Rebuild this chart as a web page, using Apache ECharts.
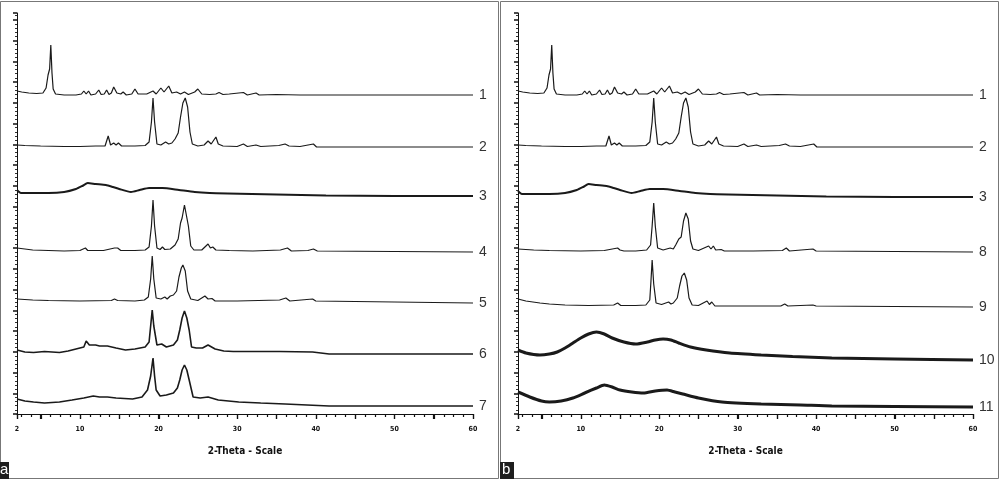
<!DOCTYPE html>
<html>
<head>
<meta charset="utf-8">
<script src="https://cdn.jsdelivr.net/npm/echarts@6/dist/echarts.min.js"></script>
<style>
  html, body { margin: 0; padding: 0; background: #fff; }
  #chart { width: 1000px; height: 488px; }
</style>
</head>
<body>
<div id="chart"></div>
<script>
// 2-theta (deg) vs height above the trace's own baseline (px-like units)
var trace1 = [[2,4],[2.6,3],[3.5,2],[4.5,1.5],[5.3,2],[5.7,7],[5.95,20],[6.15,26],[6.3,50],[6.45,22],[6.6,6],[6.9,1],[8,0],[9.5,0],[10.2,1],[10.5,4],[10.8,1],[11.1,4],[11.4,0],[12,1],[12.4,5],[12.7,0.5],[13.1,1],[13.4,5],[13.7,0.5],[14,2],[14.3,8],[14.7,2],[15.2,1],[15.5,3],[15.9,0],[16.6,1],[17,6],[17.4,1],[18.5,1],[19.3,4],[19.7,1],[20.3,7],[20.7,3],[21.3,9],[21.7,2],[22.3,3],[22.8,1],[23.3,3],[23.8,0.5],[24.6,3],[25,6],[25.5,1],[26.5,0.5],[27.3,1],[27.7,2.5],[28.2,0.5],[29,1],[30.8,2.5],[31.3,0],[32.4,2],[32.8,0],[35,0.5],[38,0],[45,0],[52,0],[60,0]];
var trace2 = [[2,2],[3,1.5],[5,1],[8,0.5],[10,0.5],[12,1],[13.2,1],[13.6,11],[13.9,2],[14.3,4],[14.6,2],[14.9,4],[15.3,1],[17,1],[18.3,1.5],[18.8,5],[19.1,25],[19.3,49],[19.5,25],[19.8,3],[20.3,2],[20.9,5],[21.3,3],[21.7,4],[22.1,8],[22.5,14],[22.8,30],[23.1,44],[23.4,49],[23.7,40],[24,15],[24.3,3],[25,1],[25.8,2],[26.3,6],[26.7,3],[27.3,10],[27.6,3],[28.2,1],[30,0.5],[30.8,3],[31.3,0.5],[32.4,2],[33,0.5],[35.3,1.5],[36.1,3],[36.6,1],[38,0.5],[39.7,3],[40.1,0],[45,0],[50,0],[55,0],[60,0]];
var trace3 = [[2,6],[2.5,3],[4,3],[6,3],[8,4],[9.5,7],[10.3,10],[11,13],[12,12],[13.3,11],[14.2,9],[15,7],[16.5,4],[17.6,6],[18.8,8],[20.5,8],[22.6,6],[24.6,4],[26.5,3],[28.8,2.5],[35,1.5],[41.3,0.5],[50,0],[60,0]];
var trace4 = [[2,3],[4,1],[6,0.5],[8,0],[10,0.5],[10.7,3],[11,0.5],[13,0.5],[14.4,3],[14.8,3],[15.2,0.5],[17,0.5],[18.3,1],[18.8,4],[19.1,25],[19.3,51],[19.5,25],[19.8,3],[20.2,1.5],[20.5,4],[20.8,1.5],[21.5,2],[22.1,6],[22.5,12],[22.8,28],[23.0,33],[23.3,46],[23.5,44],[23.8,25],[24.1,5],[24.5,1],[25.5,1],[26.3,7],[26.6,3],[26.9,4],[27.3,1],[29,0.5],[32,0],[35.5,1],[36.4,3],[36.9,0],[39,0.5],[39.7,2],[40.2,0],[50,-0.5],[60,-1]];
var trace5 = [[2,2],[4,1],[6,0.5],[10,0],[14,0.5],[14.4,2],[14.8,0.5],[17,0],[18.2,1],[18.7,4],[19.0,22],[19.2,45],[19.4,22],[19.7,3],[20.3,2],[20.8,4],[21.1,2],[21.5,5],[21.9,6],[22.3,10],[22.6,24],[22.9,33],[23.1,36],[23.4,30],[23.7,10],[24.1,2],[25,0.5],[25.9,5],[26.3,2],[26.8,2.5],[27.2,0],[30,0],[35.4,1],[36.2,3],[36.7,0],[39.6,2],[40,0],[50,-1],[60,-2]];
var trace6 = [[2,4],[3,2],[4.1,1.5],[5.5,2.5],[7.4,1.5],[8.5,3],[9.5,5],[10.5,7],[10.8,13],[11.2,9],[12,9],[12.5,8],[13.5,8],[14.6,6],[15.8,4],[17,5],[18.3,7],[18.8,12],[19.0,28],[19.2,44],[19.4,28],[19.8,9],[20.4,10],[21,7],[21.9,9],[22.4,14],[22.7,24],[23.0,36],[23.3,43],[23.6,36],[23.9,24],[24.2,7],[24.8,6],[25.6,6],[26.3,9],[27.2,5],[28.3,3],[29.5,2.5],[35.4,2.5],[39.6,2],[41.7,0],[50,0],[60,0]];
var trace7 = [[2,7],[3,5],[4.1,4],[5.5,3],[7.4,4],[9,6],[10.5,8],[11.7,10],[12.5,9],[13.5,9],[14.6,8],[16.7,7],[17.9,9],[18.6,16],[19.0,30],[19.3,48],[19.5,30],[19.7,16],[20.2,10],[21,11],[21.9,13],[22.4,18],[22.7,26],[23.0,36],[23.3,41],[23.6,36],[23.9,26],[24.4,9],[25.3,8],[26.3,9],[27.6,6],[30.2,4],[33,3],[36.1,2],[41.7,0],[50,0],[60,0]];
var trace8 = [[2,2],[4,1],[6,0.5],[10,0],[13,0.5],[14.7,3],[15,1],[15.2,3],[15.5,0],[17,0],[18.4,1],[18.9,6],[19.1,25],[19.3,48],[19.5,25],[19.8,3],[20.5,1],[21.4,3],[21.8,2],[22.1,6],[22.5,12],[22.8,14],[23.1,30],[23.4,38],[23.7,32],[24,10],[24.3,2],[25,0.5],[26.3,5],[26.6,2],[26.9,5],[27.2,1],[27.9,1.5],[28.3,0],[32,0],[35.7,0.5],[36.2,3],[36.6,0],[39.6,2],[40,0],[50,-0.5],[60,-1]];
var trace9 = [[2,7],[3,5],[4.8,3],[6,2],[8,1],[11,0.5],[14.2,1],[14.7,3],[15.1,0.5],[17,0.5],[18.3,1],[18.8,6],[18.95,25],[19.1,46],[19.3,22],[19.6,3],[20.3,1.5],[21.2,4],[21.5,2],[21.8,3],[22.3,8],[22.6,20],[22.9,30],[23.2,33],[23.5,26],[23.8,8],[24.2,1],[25,0.5],[26.1,5],[26.4,1.5],[26.7,4],[27.1,0],[30,0],[35.5,0],[36,2],[36.4,0],[39.6,1],[40,0],[50,-0.5],[60,-1]];
var trace10 = [[2,10],[3,7],[4.8,5],[6,6],[7,8],[8,12],[9,17],[10,22],[11,26],[12,28],[13,26],[14,22],[15.5,18],[17,16],[18.5,18],[19.5,20],[20.5,21],[21.5,20],[22.5,17],[24,13],[26,10],[29,7],[33,5],[37,3.5],[42,2],[50,1],[60,0]];
var trace11 = [[2,15],[3.5,10],[5,6],[6,5],[7.5,6],[9,9],[10.5,14],[12,19],[13,22],[14,20],[15,17],[16.5,15],[18,14],[19.5,16],[21,17],[22,15],[23,13],[25,9],[28,5],[33,3],[38,2],[42,1],[50,0.5],[60,0]];

var namesA = ['1', '2', '3', '4', '5', '6', '7'];
var namesB = ['1', '2', '3', '8', '9', '10', '11'];
var tracesA = [trace1, trace2, trace3, trace4, trace5, trace6, trace7];
var tracesB = [trace1, trace2, trace3, trace8, trace9, trace10, trace11];
var offsetsA = [319, 267, 218, 163, 113, 60, 8];
var offsetsB = [319, 267, 217, 163, 108, 54, 7];
var widthsA = [1.2, 1.2, 2, 1.2, 1.2, 1.6, 1.6];
var widthsB = [1.2, 1.2, 2, 1.2, 1.2, 3, 3];
var smoothA = [false, false, 0.2, false, false, false, false];
var smoothB = [false, false, 0.2, false, false, 0.2, 0.2];

var xLabels = [2, 10, 20, 30, 40, 50, 60];
var xMajor = [2, 5, 10, 15, 20, 25, 30, 35, 40, 45, 50, 55, 60];
var xMinor = [];
for (var v = 2.5; v < 60; v += 1.25) {
  if (v % 5 !== 0) xMinor.push(v);
}

var narrow = '"Liberation Sans Narrow", "DejaVu Sans Condensed", "Liberation Sans", sans-serif';
var chart = echarts.init(document.getElementById('chart'));

function xAxis(grid) {
  return {
    gridIndex: grid, type: 'value', min: 2, max: 60,
    name: '2-Theta - Scale', nameLocation: 'middle', nameGap: 32,
    nameTextStyle: { fontFamily: narrow, fontWeight: 'bold', fontSize: 10, color: '#111' },
    axisLine: { show: true, onZero: false, lineStyle: { color: '#111', width: 1 } },
    axisTick: { show: true, customValues: xMajor, length: 5, lineStyle: { color: '#111', width: 1.2 } },
    axisLabel: { show: true, customValues: xLabels, margin: 12, fontSize: 7, fontWeight: 'bold',
      fontFamily: narrow, color: '#111' },
    splitLine: { show: false }
  };
}

function yAxis(grid) {
  return {
    gridIndex: grid, type: 'value', min: 0, max: 401, interval: 20.75,
    axisLine: { show: true, lineStyle: { color: '#111', width: 1 } },
    axisTick: { show: true, length: 4, lineStyle: { color: '#111', width: 1.5 } },
    minorTick: { show: true, splitNumber: 5, length: 2, lineStyle: { color: '#333', width: 1 } },
    axisLabel: { show: false },
    splitLine: { show: false }
  };
}

var series = [];
function addSeries(traces, names, offsets, widths, smooths, gi) {
  traces.forEach(function (tr, i) {
    series.push({
      name: names[i], type: 'line', xAxisIndex: gi, yAxisIndex: gi,
      data: tr.map(function (p) { return [p[0], p[1] + offsets[i]]; }),
      symbol: 'none', smooth: smooths[i],
      lineStyle: { color: '#1a1a1a', width: widths[i] },
      endLabel: { show: true, formatter: '{a}', distance: 6, color: '#333',
        fontSize: 14, fontFamily: '"Liberation Sans", Arial, sans-serif' },
      silent: true
    });
  });
}
addSeries(tracesA, namesA, offsetsA, widthsA, smoothA, 0);
addSeries(tracesB, namesB, offsetsB, widthsB, smoothB, 1);

var frames = [
  { type: 'rect', z: -10, shape: { x: 0.5, y: 1.5, width: 498, height: 477 }, style: { fill: 'none', stroke: '#777', lineWidth: 1 } },
  { type: 'rect', z: -10, shape: { x: 500.5, y: 1.5, width: 498, height: 477 }, style: { fill: 'none', stroke: '#777', lineWidth: 1 } },
  { type: 'rect', shape: { x: 0, y: 462, width: 9, height: 17 }, style: { fill: '#1e1e1e' } },
  { type: 'text', x: 0, y: 470, style: { text: 'a', fill: '#fff', fontSize: 15, fontFamily: '"Liberation Sans", sans-serif', verticalAlign: 'middle' } },
  { type: 'rect', shape: { x: 500, y: 462, width: 14, height: 17 }, style: { fill: '#1e1e1e' } },
  { type: 'text', x: 502, y: 470, style: { text: 'b', fill: '#fff', fontSize: 15, fontFamily: '"Liberation Sans", sans-serif', verticalAlign: 'middle' } }
];

chart.setOption({
  backgroundColor: '#ffffff',
  animation: false,
  grid: [
    { left: 17, top: 13, width: 456, height: 401 },
    { left: 518, top: 13, width: 455, height: 401 }
  ],
  xAxis: [xAxis(0), xAxis(1)],
  yAxis: [yAxis(0), yAxis(1)],
  series: series,
  graphic: frames
});

// x-axis tick comb: positions come from the axis scale via convertToPixel
var ticks = [];
[0, 1].forEach(function (gi) {
  [[xMajor, 5], [xMinor, 3]].forEach(function (set) {
    set[0].forEach(function (t) {
      var p = chart.convertToPixel({ gridIndex: gi }, [t, 0]);
      var x = Math.round(p[0]) + 0.5;
      ticks.push({
        type: 'line', z: 100, silent: true,
        shape: { x1: x, y1: p[1], x2: x, y2: p[1] + set[1] },
        style: { stroke: '#111', lineWidth: 1.2 }
      });
    });
  });
});
chart.setOption({ graphic: frames.concat(ticks) });
</script>
</body>
</html>
